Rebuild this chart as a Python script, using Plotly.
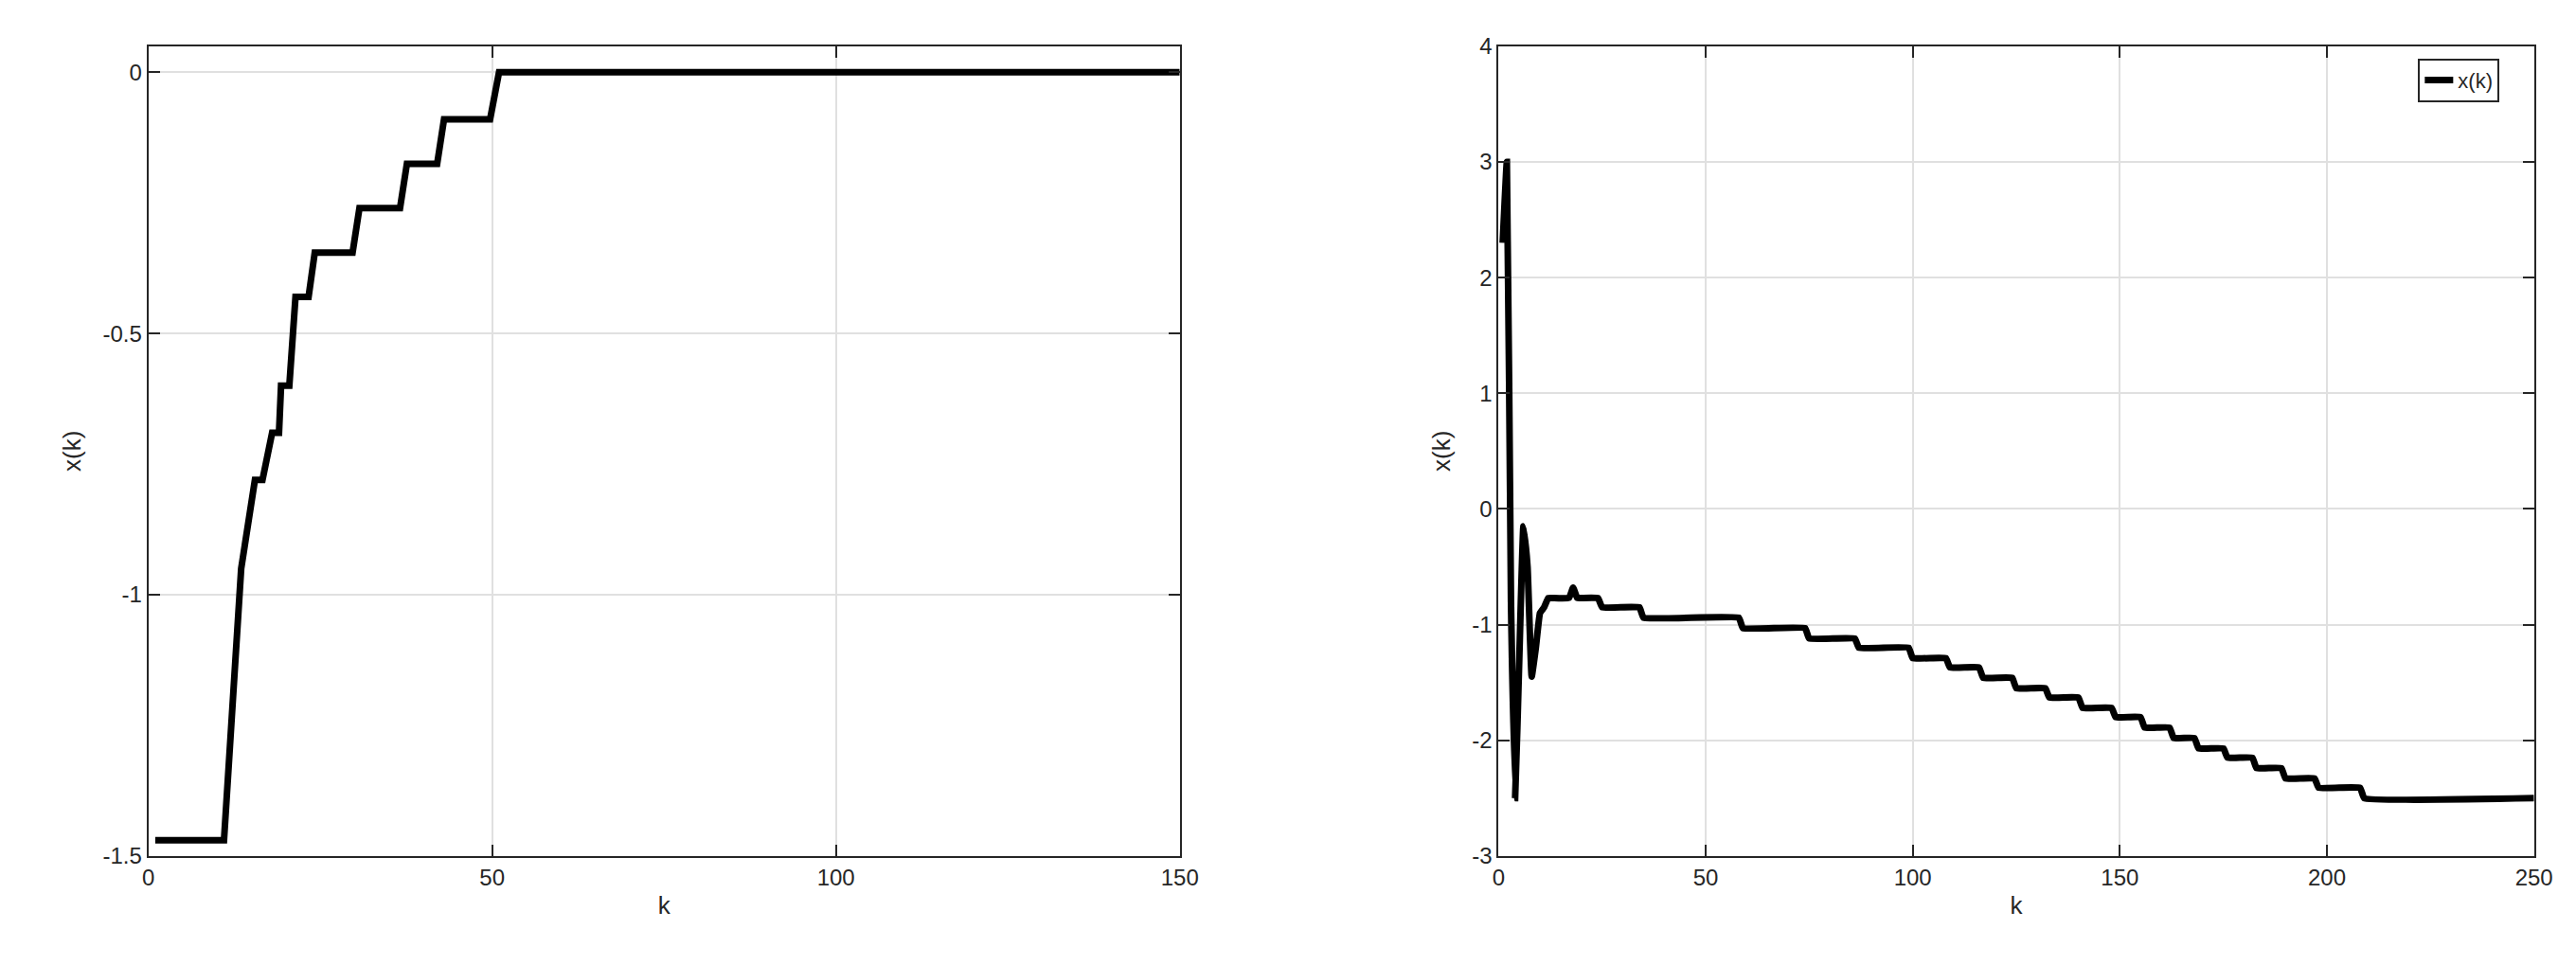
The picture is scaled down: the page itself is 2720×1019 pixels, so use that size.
import plotly.graph_objects as go

# left panel: corner points of the staircase
k_left = [1, 11, 13.5, 15.5, 16.6, 18, 19, 19.3, 20.5, 21.4, 23.3, 24.2, 29.7, 30.7,
          36.6, 37.6, 42, 43, 49.7, 51, 150]
x_left = [-1.47, -1.47, -0.95, -0.78, -0.78, -0.69, -0.69, -0.60, -0.60, -0.43, -0.43,
          -0.345, -0.345, -0.26, -0.26, -0.175, -0.175, -0.09, -0.09, 0.0, 0.0]

# right panel
k_right = [1, 2, 3, 4, 5, 6, 7, 8, 9, 10, 11, 12, 13, 17, 18, 19, 20, 24, 25, 34, 35,
           58, 59, 74, 75, 86, 87, 99, 100, 108, 109, 116, 117, 124, 125, 132, 133,
           140, 141, 148, 149, 155, 156, 162, 163, 168, 169, 175, 176, 182, 183, 189,
           190, 197, 198, 208, 209, 250]
x_right = [2.3, 3.0, -0.8, -2.5, -1.3, -0.15, -0.5, -1.45, -1.2, -0.9, -0.85, -0.77,
           -0.77, -0.77, -0.68, -0.77, -0.77, -0.77, -0.85, -0.85, -0.94, -0.94, -1.03,
           -1.03, -1.12, -1.12, -1.20, -1.20, -1.29, -1.29, -1.37, -1.37, -1.46, -1.46,
           -1.55, -1.55, -1.63, -1.63, -1.72, -1.72, -1.80, -1.80, -1.89, -1.89, -1.98,
           -1.98, -2.07, -2.07, -2.15, -2.15, -2.24, -2.24, -2.33, -2.33, -2.41, -2.41,
           -2.50, -2.50]

fig = go.Figure()
fig.add_trace(go.Scatter(x=k_left, y=x_left, mode="lines", name="x(k)",
                         line=dict(color="black", width=7), xaxis="x", yaxis="y",
                         legend="legend"))
fig.add_trace(go.Scatter(x=k_right, y=x_right, mode="lines", name="x(k)",
                         line=dict(color="black", width=7, shape="spline", smoothing=0.3),
                         xaxis="x2", yaxis="y2", legend="legend2"))

ax = dict(showline=True, linecolor="#262626", linewidth=2, mirror="ticks", ticks="inside",
          ticklen=12, tickwidth=2, tickcolor="#262626", showgrid=True, gridcolor="#e0e0e0",
          gridwidth=2, zeroline=False, tickfont=dict(size=24, color="#262626"),
          title_font=dict(size=26, color="#262626"))
legend_style = dict(bgcolor="white", bordercolor="#262626", borderwidth=2,
                    font=dict(size=22, color="#262626"), xanchor="right", yanchor="top")

fig.update_layout(
    width=2720, height=1019, plot_bgcolor="white", paper_bgcolor="white",
    margin=dict(l=0, r=0, t=0, b=0), font=dict(family="Liberation Sans"),
    xaxis=dict(ax, domain=[0.0526, 0.457], range=[0, 150], tickvals=[0, 50, 100, 150],
               title=dict(text="k", standoff=8), anchor="y"),
    yaxis=dict(ax, domain=[0.111, 0.973], range=[-1.5, 0.05], tickvals=[-1.5, -1, -0.5, 0],
               ticktext=["-1.5", "-1", "-0.5", "0"], title=dict(text="x(k)"), anchor="x"),
    xaxis2=dict(ax, domain=[0.582, 0.988], range=[0, 250],
                tickvals=[0, 50, 100, 150, 200, 250], title=dict(text="k", standoff=8),
                anchor="y2"),
    yaxis2=dict(ax, domain=[0.111, 0.973], range=[-3, 4], dtick=1,
                tickvals=[-3, -2, -1, 0, 1, 2, 3, 4],
                ticktext=["-3", "-2", "-1", "0", "1", "2", "3", "4"],
                title=dict(text="x(k)"), anchor="x2"),
    legend=dict(legend_style, x=0.4445, y=0.96),
    legend2=dict(legend_style, x=0.9745, y=0.96),
)
fig.write_html("out.html")
